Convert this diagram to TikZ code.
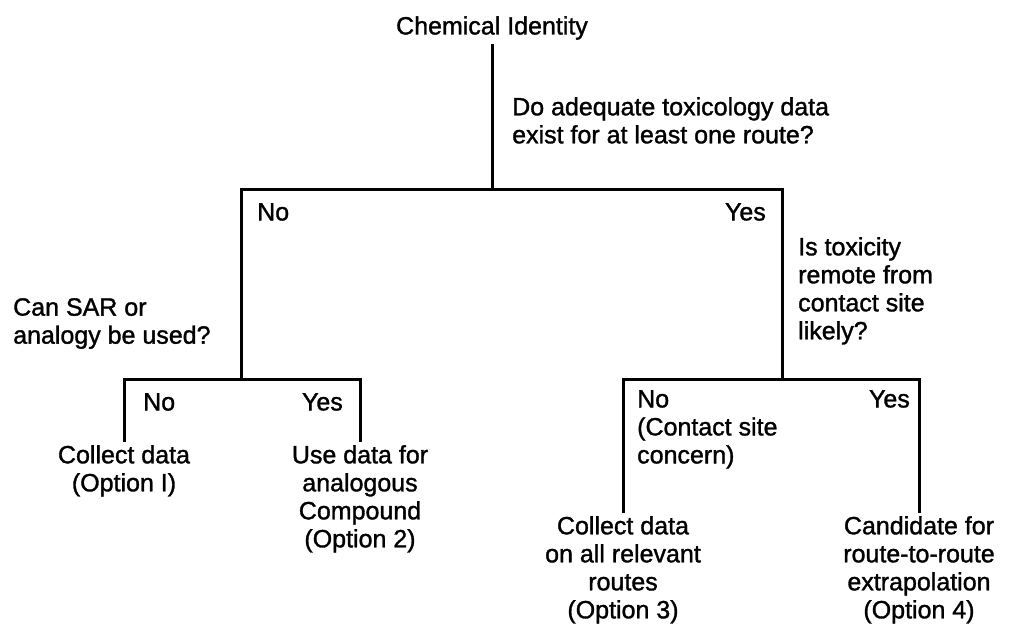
\documentclass[tikz,border=0pt]{standalone}
\usepackage{fontspec}
\setmainfont{Liberation Sans}
\newfontfamily\diagfont{Liberation Sans}[FakeBold=1.3]
\usetikzlibrary{positioning}

\begin{document}
\begin{tikzpicture}[x=1pt, y=-1pt,
    txt/.style={inner sep=0pt, font=\diagfont\fontsize{25}{28}\selectfont},
    quest/.style={txt, align=left, anchor=north west},
    leaf/.style={txt, align=center, anchor=north, inner sep=3pt},
    link/.style={draw, line width=3pt, line join=miter}
]
\useasboundingbox (0,0) rectangle (1009,629);
% root and first question
\node[txt, inner sep=4pt] (root) at (492,28) {Chemical Identity};
\node[quest] (qdata) at (512,97) {Do adequate toxicology data\\exist for at least one route?};
\coordinate (fork) at (492,189);
\coordinate (forkno) at (241,379);
\coordinate (forkyes) at (782,379);
\node[txt, anchor=north west] (nodata) at (257,203) {No};
\node[txt, anchor=north east] (yesdata) at (766,203) {Yes};
% second level questions
\node[quest] (qsar) at (13,298) {Can SAR or\\analogy be used?};
\node[quest] (qremote) at (798,237) {Is toxicity\\remote from\\contact site\\likely?};
\node[txt, anchor=north west] (nosar) at (143,393) {No};
\node[txt, anchor=north east] (yessar) at (343,393) {Yes};
\node[quest] (noremote) at (637,390) {No\\(Contact site\\concern)};
\node[txt, anchor=north east] (yesremote) at (910,390) {Yes};
% options
\node[leaf] (opt1) at (124,442) {Collect data\\(Option I)};
\node[leaf] (opt2) at (360,442) {Use data for\\analogous\\Compound\\(Option 2)};
\node[leaf] (opt3) at (623,513) {Collect data\\on all relevant\\routes\\(Option 3)};
\node[leaf] (opt4) at (919,513) {Candidate for\\route-to-route\\extrapolation\\(Option 4)};
\draw[link] (root) -- (fork);
\draw[link] (fork) -| (forkno);
\draw[link] (fork) -| (forkyes);
\draw[link] (forkno) -| (opt1);
\draw[link] (forkno) -| (opt2);
\draw[link] (forkyes) -| (opt3);
\draw[link] (forkyes) -| (opt4);
\end{tikzpicture}
\end{document}
